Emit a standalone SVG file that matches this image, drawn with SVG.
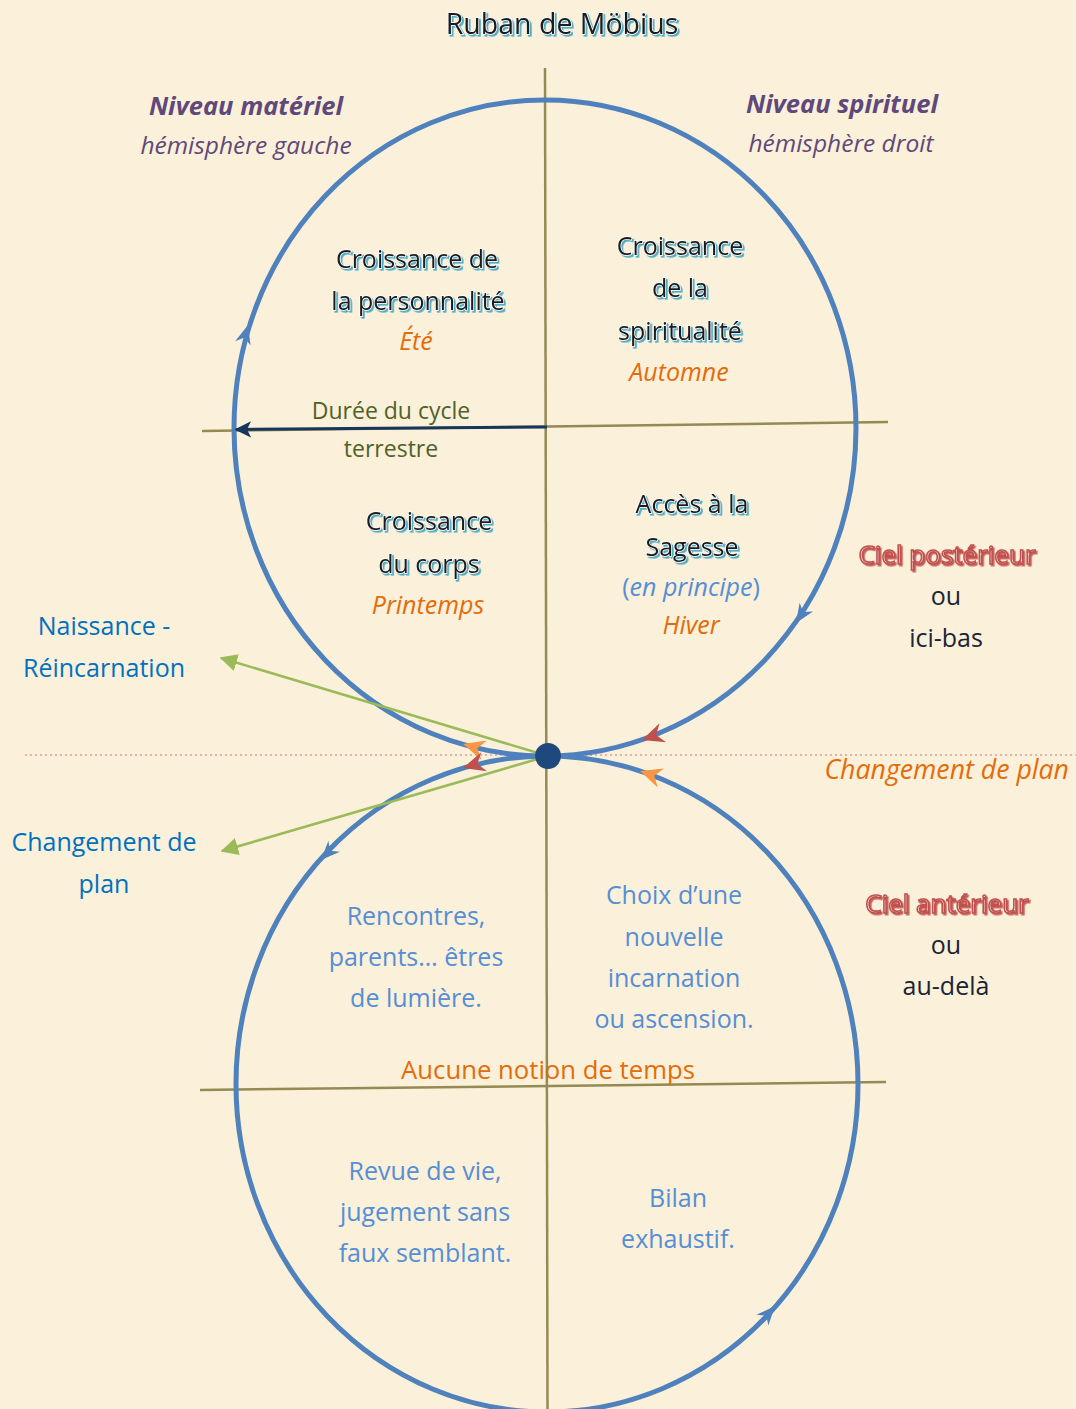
<svg xmlns="http://www.w3.org/2000/svg" width="1076" height="1409" viewBox="0 0 1076 1409">
<defs>
<style>
.t{font-family:"Open Sans","Liberation Sans",sans-serif;font-size:25px;text-anchor:middle}
.it{font-style:italic}
.sh{fill:#1b1b1b;stroke:#ffffff;stroke-width:1.4;paint-order:stroke;filter:url(#blueShadow)}
.red{fill:#fdf3ee;stroke:#c0504d;stroke-width:1.6;filter:url(#redShadow)}
.purple{fill:#5f497a}
.orange{fill:#e36c09}
.blue{fill:#0070c0}
.lblue{fill:#558ed5}
.olive{fill:#4f6228}
.navy{fill:#1a2435}
.axis{stroke:#948a54;stroke-width:2.5;fill:none}
.loop{fill:none;stroke:#4f81bd;stroke-width:5}
.green{stroke:#9bbb59;stroke-width:2.5;fill:none;marker-end:url(#greenHead)}
</style>
<filter id="blueShadow" x="-10%" y="-30%" width="120%" height="160%">
<feDropShadow dx="1.8" dy="1.8" stdDeviation="0.2" flood-color="#4bacc6" flood-opacity="1"/>
</filter>
<filter id="redShadow" x="-10%" y="-30%" width="120%" height="160%">
<feDropShadow dx="1.6" dy="1.6" stdDeviation="0.2" flood-color="#c0504d" flood-opacity="0.9"/>
</filter>
<marker id="greenHead" viewBox="0 0 12 12" refX="11" refY="6" markerWidth="7" markerHeight="7" markerUnits="strokeWidth" orient="auto">
<path d="M0,0 L12,6 L0,12 Z" fill="#9bbb59"/>
</marker>
<marker id="navyHead" viewBox="0 0 12 12" refX="11" refY="6" markerWidth="5.5" markerHeight="5.5" markerUnits="strokeWidth" orient="auto">
<path d="M0,0 L12,6 L0,12 L3,6 Z" fill="#17365d"/>
</marker>
<path id="bh" d="M0,0 L-19,-8 L-13,0 L-19,8 Z"/>
<path id="ch" d="M0,0 L-22,-10 L-15,0 L-22,10 Z"/>
</defs>

<rect x="0" y="0" width="1076" height="1409" fill="#fbf0d9"/>

<g id="axes">
<line class="axis" x1="545" y1="68" x2="547.5" y2="1409"/>
<line class="axis" x1="202" y1="431" x2="888" y2="422"/>
<line class="axis" x1="200" y1="1090" x2="886" y2="1082"/>
<line x1="25" y1="755" x2="1076" y2="755" stroke="#e39a95" stroke-width="1.6" stroke-dasharray="2 3"/>
</g>

<g id="connectors">
<ellipse class="loop" cx="545" cy="428" rx="311" ry="328"/>
<ellipse class="loop" cx="547" cy="1084" rx="311" ry="328"/>
<g fill="#4f81bd">
<use href="#bh" transform="translate(248,325) rotate(-74.4)"/>
<use href="#bh" transform="translate(796,623) rotate(122.9)"/>
<use href="#bh" transform="translate(321,860) rotate(133.9)"/>
<use href="#bh" transform="translate(775,1306) rotate(-48.3)"/>
</g>
<use href="#ch" fill="#c0504d" transform="translate(642,740) rotate(160.9)"/>
<use href="#ch" fill="#f79646" transform="translate(463,744) rotate(-163.8)"/>
<use href="#ch" fill="#c0504d" transform="translate(463,768) rotate(163.5)"/>
<use href="#ch" fill="#f79646" transform="translate(640,771) rotate(-161.7)"/>
<line x1="547" y1="427" x2="236" y2="429.5" stroke="#17365d" stroke-width="3" marker-end="url(#navyHead)"/>
<line class="green" x1="548" y1="756" x2="221" y2="658"/>
<line class="green" x1="548" y1="756" x2="222" y2="851"/>
</g>

<g id="title">
<text class="t sh" x="562" y="34" style="font-size:28.5px">Ruban de Möbius</text>
</g>

<g id="niveau-materiel">
<text class="t it purple" x="246" y="115" font-weight="bold" style="font-size:25.5px">Niveau matériel</text>
<text class="t it purple" x="246" y="154" style="font-size:24.5px">hémisphère gauche</text>
</g>

<g id="niveau-spirituel">
<text class="t it purple" x="842" y="113" font-weight="bold" style="font-size:25.5px">Niveau spirituel</text>
<text class="t it purple" x="841" y="152" style="font-size:24.5px">hémisphère droit</text>
</g>

<g id="ete">
<text class="t sh" x="417" y="268">Croissance de</text>
<text class="t sh" x="418" y="310">la personnalité</text>
<text class="t it orange" x="416" y="350">Été</text>
</g>

<g id="automne">
<text class="t sh" x="680" y="255">Croissance</text>
<text class="t sh" x="680" y="297">de la</text>
<text class="t sh" x="680" y="340">spiritualité</text>
<text class="t it orange" x="679" y="381">Automne</text>
</g>

<g id="duree">
<text class="t olive" x="391" y="419" style="font-size:23px">Durée du cycle</text>
<text class="t olive" x="391" y="457" style="font-size:23px">terrestre</text>
</g>

<g id="printemps">
<text class="t sh" x="429" y="530">Croissance</text>
<text class="t sh" x="429" y="573">du corps</text>
<text class="t it orange" x="428" y="614">Printemps</text>
</g>

<g id="hiver">
<text class="t sh" x="692" y="513">Accès à la</text>
<text class="t sh" x="692" y="556">Sagesse</text>
<text class="t lblue" x="691" y="596">(<tspan font-style="italic">en principe</tspan>)</text>
<text class="t it orange" x="691" y="634">Hiver</text>
</g>

<g id="ciel-posterieur">
<text class="t red" x="947" y="564" style="font-size:26px">Ciel postérieur</text>
<text class="t navy" x="946" y="605">ou</text>
<text class="t navy" x="946" y="647">ici-bas</text>
</g>

<g id="naissance">
<text class="t blue" x="104" y="635">Naissance -</text>
<text class="t blue" x="104" y="677">Réincarnation</text>
</g>

<g id="changement-plan-right">
<text class="t it orange" x="1069" y="779" style="font-size:26.7px;text-anchor:end">Changement de plan</text>
</g>

<g id="changement-plan-left">
<text class="t blue" x="104" y="851">Changement de</text>
<text class="t blue" x="104" y="893">plan</text>
</g>

<g id="ciel-anterieur">
<text class="t red" x="947" y="913" style="font-size:26px">Ciel antérieur</text>
<text class="t navy" x="946" y="954">ou</text>
<text class="t navy" x="946" y="995">au-delà</text>
</g>

<g id="rencontres">
<text class="t lblue" x="416" y="925">Rencontres,</text>
<text class="t lblue" x="416" y="966">parents… êtres</text>
<text class="t lblue" x="416" y="1007">de lumière.</text>
</g>

<g id="choix">
<text class="t lblue" x="674" y="904">Choix d’une</text>
<text class="t lblue" x="674" y="946">nouvelle</text>
<text class="t lblue" x="674" y="987">incarnation</text>
<text class="t lblue" x="674" y="1028">ou ascension.</text>
</g>

<g id="aucune-notion">
<text class="t orange" x="548" y="1079" style="font-size:25.7px">Aucune notion de temps</text>
</g>

<g id="revue">
<text class="t lblue" x="425" y="1180">Revue de vie,</text>
<text class="t lblue" x="425" y="1221">jugement sans</text>
<text class="t lblue" x="425" y="1262">faux semblant.</text>
</g>

<g id="bilan">
<text class="t lblue" x="678" y="1207">Bilan</text>
<text class="t lblue" x="678" y="1248">exhaustif.</text>
</g>

<g id="center-dot">
<circle cx="548" cy="756" r="13" fill="#1f497d"/>
</g>
</svg>
